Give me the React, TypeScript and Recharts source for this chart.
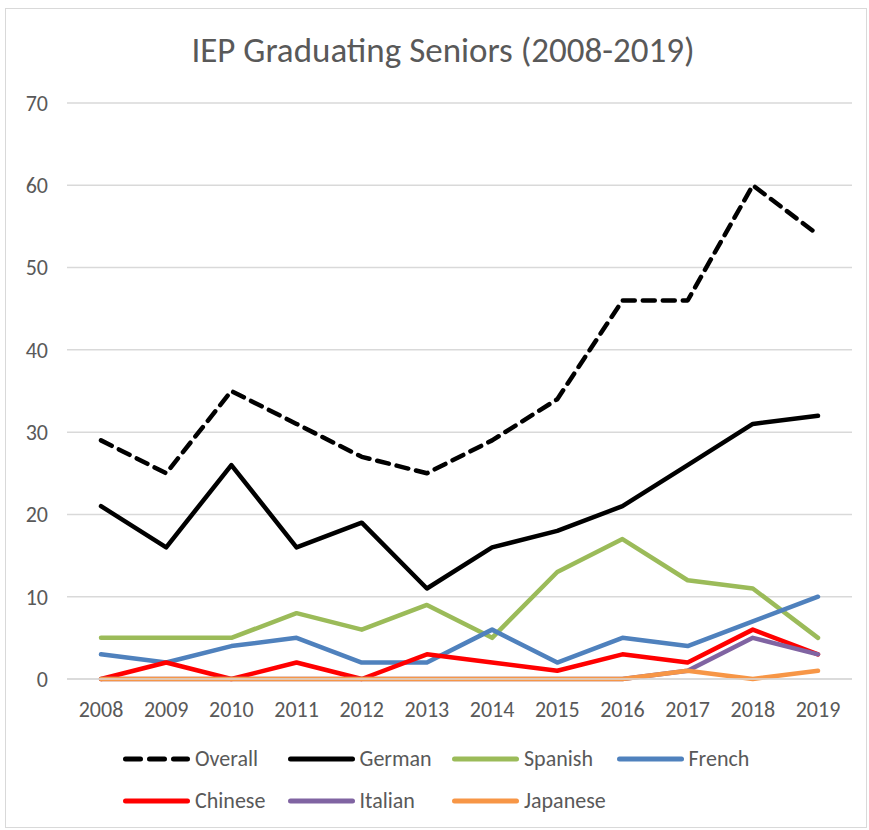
import React from "react";
import { LineChart, Line, XAxis, YAxis, CartesianGrid } from "recharts";

const years = ["2008","2009","2010","2011","2012","2013","2014","2015","2016","2017","2018","2019"];
const overall = [29,25,35,31,27,25,29,34,46,46,60,54];
const german = [21,16,26,16,19,11,16,18,21,26,31,32];
const spanish = [5,5,5,8,6,9,5,13,17,12,11,5];
const french = [3,2,4,5,2,2,6,2,5,4,7,10];
const chinese = [0,2,0,2,0,3,2,1,3,2,6,3];
const italian = [0,0,0,0,0,0,0,0,0,1,5,3];
const japanese = [0,0,0,0,0,0,0,0,0,1,0,1];
const yTicks = [0,10,20,30,40,50,60,70];

const series = [
  { key: "Overall", values: overall, color: "#000000", dash: true },
  { key: "German", values: german, color: "#000000", dash: false },
  { key: "Spanish", values: spanish, color: "#9BBB59", dash: false },
  { key: "French", values: french, color: "#4F81BD", dash: false },
  { key: "Chinese", values: chinese, color: "#FF0000", dash: false },
  { key: "Italian", values: italian, color: "#8064A2", dash: false },
  { key: "Japanese", values: japanese, color: "#F79646", dash: false },
];

const data = years.map((y, i) => {
  const row: any = { year: y };
  series.forEach((s) => (row[s.key] = s.values[i]));
  return row;
});

const FONT = "Carlito, Calibri, 'Open Sans', sans-serif";
const TXT = "#595959";

export default function App() {
  return (
    <div style={{ position: "absolute", left: 0, top: 0, width: 869, height: 830, background: "#fff", fontFamily: FONT }}>
      <div style={{ position: "absolute", left: 5, top: 8, width: 862, height: 820, border: "1px solid #d9d9d9", boxSizing: "border-box" }} />
      <div style={{ position: "absolute", left: 0, top: 28, width: 886, textAlign: "center", fontSize: 35, color: TXT, lineHeight: "44px" }}>
        IEP Graduating Seniors (2008-2019)
      </div>
      <div style={{ position: "absolute", left: 0, top: 0 }}>
        <LineChart width={869} height={830} data={data} margin={{ top: 103, right: 17, bottom: 111, left: 0 }}>
          <CartesianGrid vertical={false} stroke="#d9d9d9" strokeWidth={1.5} />
          <XAxis
            dataKey="year"
            padding={{ left: 34, right: 34 }}
            axisLine={{ stroke: "#d9d9d9", strokeWidth: 1.5 }}
            tickLine={false}
            tickMargin={16}
            height={40}
            tick={{ fill: TXT, fontSize: 22, fontFamily: FONT }}
            interval={0}
          />
          <YAxis
            width={67}
            domain={[0, 70]}
            ticks={yTicks}
            axisLine={false}
            tickLine={false}
            tickMargin={13}
            tick={{ fill: TXT, fontSize: 22, fontFamily: FONT }}
          />
          {series.map((s) => (
            <Line
              key={s.key}
              dataKey={s.key}
              stroke={s.color}
              strokeWidth={4.5}
              strokeDasharray={s.dash ? "12 8" : undefined}
              strokeLinecap="round"
              strokeLinejoin="round"
              dot={false}
              activeDot={false}
              isAnimationActive={false}
            />
          ))}
        </LineChart>
      </div>
      {series.map((s, i) => {
        const col = i % 4;
        const row = Math.floor(i / 4);
        const left = 123 + col * 164.5;
        const top = 759 + row * 42;
        return (
          <div key={s.key} style={{ position: "absolute", left, top: top - 14, height: 28, display: "flex", alignItems: "center" }}>
            <svg width={70} height={10} style={{ display: "block" }}>
              <line x1={2.5} y1={5} x2={64.5} y2={5} stroke={s.color} strokeWidth={5} strokeLinecap="round" strokeDasharray={s.dash ? "15 9" : undefined} />
            </svg>
            <span style={{ fontSize: 22, color: TXT, marginLeft: 2, lineHeight: "28px" }}>{s.key}</span>
          </div>
        );
      })}
    </div>
  );
}
